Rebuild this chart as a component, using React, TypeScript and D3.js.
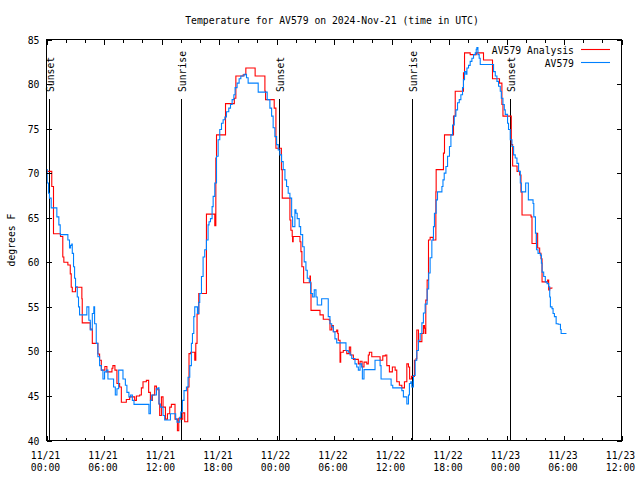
import React from 'react';
import * as d3 from 'd3';

// Hours since 2024-11-21 00:00 UTC
const redHours = [0.07,0.55,0.73,1.46,1.70,1.81,2.23,2.48,2.58,2.69,3.03,3.27,3.69,3.73,4.57,4.78,5.36,5.54,5.72,6.09,6.30,6.83,6.93,7.14,7.35,7.63,7.81,8.33,8.68,9.20,9.38,9.72,9.90,10.07,10.42,10.66,10.84,11.05,11.29,11.47,11.74,11.81,11.99,12.16,12.41,12.62,12.86,13.03,13.41,13.66,13.80,14.01,14.22,14.42,14.74,14.87,15.05,15.47,15.58,15.71,15.89,16.69,17.56,17.67,17.74,18.68,19.60,19.76,20.52,20.80,21.77,22.79,22.86,23.76,23.94,24.51,24.60,25.40,25.50,25.64,25.68,25.74,26.45,26.55,26.65,26.83,27.49,27.54,27.60,28.54,28.88,29.51,29.58,29.76,29.93,30.28,30.39,30.45,30.63,30.70,30.97,31.33,31.60,31.74,32.02,32.54,32.72,32.93,33.13,33.42,33.58,33.69,33.94,34.81,35.09,35.36,35.51,35.78,36.09,36.38,36.55,36.82,37.08,37.35,37.60,37.77,37.89,38.08,38.39,38.57,38.64,38.81,39.17,39.33,39.44,39.51,39.58,39.72,39.86,40.03,40.35,40.63,40.66,41.42,41.53,42.47,42.65,43.51,43.62,44.21,44.84,45.60,46.54,47.27,47.52,47.63,48.50,48.64,49.10,49.37,49.51,49.62,50.56,50.66,51.11,51.25,51.46,51.60,51.71,52.29,52.40,52.51,52.75];
const redTemps = [70.2,68.5,63.2,62.9,60.6,60.0,59.7,58.7,57.2,56.7,57.2,57.2,55.9,53.2,52.5,50.9,49.7,49.0,47.9,48.3,47.7,48.1,48.4,47.9,46.4,46.0,44.3,44.6,44.9,44.5,45.0,45.1,45.9,46.6,46.75,45.4,44.5,45.1,46.1,45.7,44.1,42.8,44.9,43.75,42.4,43.0,43.75,44.05,42.4,41.1,42.5,42.4,43.1,42.1,46.0,49.75,49.9,49.0,50.9,54.2,56.5,65.4,64.1,71.7,74.3,77.8,78.4,80.9,81.05,81.8,80.9,79.2,78.25,77.3,72.8,70.4,67.2,64.75,63.6,62.9,62.3,62.9,62.3,61.2,59.5,57.7,58.45,57.7,54.6,54.1,53.6,53.5,52.4,52.9,52.2,52.4,52.0,51.25,48.8,49.9,50.1,49.75,50.5,49.6,49.1,48.6,48.9,48.25,48.8,48.6,49.6,49.9,49.4,49.0,49.5,49.6,48.4,47.7,48.25,47.9,46.6,46.2,45.9,46.6,48.6,48.25,46.9,47.2,49.0,49.2,52.4,51.1,52.0,52.9,52.6,52.0,55.75,58.0,62.5,62.8,62.5,67.9,70.4,72.25,74.3,76.4,79.2,81.25,83.5,83.3,83.5,82.7,80.6,80.1,77.7,76.4,73.2,70.8,70.2,69.8,67.9,65.3,65.1,62.1,63.25,61.6,61.0,60.4,57.8,58.0,56.9,57.1,57.05];

const blueHours = [0.0,0.07,0.21,0.31,0.49,1.08,1.29,1.43,2.23,2.40,2.51,2.64,2.69,2.82,2.93,3.03,3.21,3.34,3.45,4.21,4.42,4.57,4.78,4.94,5.02,5.19,5.36,5.54,5.72,5.89,6.06,6.24,6.41,7.00,7.18,7.35,7.53,7.98,8.23,8.39,8.60,8.78,8.96,9.13,10.69,10.84,10.98,11.47,11.63,11.74,11.88,12.16,12.33,12.93,13.48,13.62,13.90,14.01,14.18,14.35,14.60,14.77,14.95,15.12,15.23,15.37,15.47,15.75,15.89,15.99,16.17,16.34,16.51,16.69,16.86,16.96,17.11,17.28,17.39,17.56,17.74,17.91,18.08,18.26,18.43,18.61,18.78,19.02,19.20,19.37,19.55,19.68,19.89,20.10,20.28,20.62,20.87,21.04,22.09,23.03,23.31,23.49,23.65,23.83,24.01,24.18,24.35,24.53,24.70,24.88,25.05,25.22,25.40,25.58,25.68,25.92,26.03,26.16,26.37,26.52,26.73,26.89,27.07,27.21,27.42,27.56,27.77,27.94,28.12,28.25,28.71,29.40,29.58,29.76,29.93,30.10,30.28,31.25,31.49,31.67,31.85,32.19,32.37,32.54,32.72,32.89,32.96,33.13,34.28,34.81,34.91,35.96,36.13,37.08,37.24,37.60,37.77,37.87,38.01,38.12,38.29,38.47,38.64,38.81,38.99,39.17,39.33,39.51,39.72,39.88,40.03,40.21,40.38,40.48,40.66,40.80,41.26,41.37,41.50,41.68,41.85,42.05,42.20,42.37,42.55,42.72,42.89,43.07,43.24,43.41,43.51,43.62,43.76,43.87,44.04,44.21,44.39,44.56,44.74,44.84,44.91,45.02,45.15,45.26,46.65,46.83,47.00,47.17,47.35,47.46,47.63,47.77,47.87,48.11,48.21,48.39,48.57,48.74,48.91,49.09,49.26,49.44,49.55,50.00,50.28,50.77,50.85,51.02,51.13,51.29,51.53,51.64,51.71,51.88,52.05,52.23,52.40,52.51,52.58,52.75,52.86,53.00,53.18,53.39,53.63,53.70,54.26];
const blueTemps = [70.4,68.9,67.75,67.2,66.1,65.1,64.2,63.1,62.5,61.6,61.9,62.05,61.0,59.5,58.2,57.25,56.1,55.0,54.1,55.0,53.5,52.4,54.25,55.0,53.1,50.9,49.4,48.4,47.9,46.9,47.7,47.9,46.9,46.0,45.1,45.8,47.9,46.9,46.2,45.4,44.9,45.1,44.5,44.05,43.0,44.5,45.1,45.8,45.9,44.1,43.75,42.8,42.3,43.0,42.4,42.06,42.6,43.2,44.5,45.6,46.0,47.1,48.4,50.9,52.0,53.9,55.0,54.25,55.5,56.5,58.4,60.6,61.4,62.5,64.2,64.55,64.9,66.25,67.4,68.9,71.9,73.75,74.9,75.6,76.0,76.3,76.9,77.3,77.7,78.25,78.8,79.6,80.1,80.6,80.9,81.1,80.7,80.1,79.1,78.25,77.3,76.4,75.1,74.1,73.2,72.6,72.05,71.3,70.4,69.25,68.5,67.75,67.2,65.1,64.0,65.9,65.5,64.9,64.0,63.1,61.75,60.05,59.1,58.2,57.8,56.5,56.1,56.9,56.1,55.2,55.9,53.9,53.1,52.75,52.2,51.4,50.95,50.1,49.9,49.6,49.2,48.6,48.25,47.9,48.6,48.25,46.9,47.95,49.0,48.4,46.9,46.2,45.9,45.6,44.9,44.1,45.1,46.4,46.6,46.0,47.3,49.0,50.1,51.25,52.0,53.2,54.3,55.3,57.0,58.8,60.5,62.5,64.0,65.5,67.0,67.9,68.5,69.25,70.0,70.75,71.9,73.0,74.3,75.4,76.4,77.1,77.9,78.25,78.8,79.6,80.5,81.4,81.1,81.8,82.1,82.55,82.9,83.3,83.5,83.9,84.1,83.3,82.9,82.2,81.4,80.9,80.3,79.75,79.2,78.4,77.7,77.1,76.6,75.6,74.9,73.75,73.0,72.05,71.7,71.1,70.2,68.9,67.9,68.9,67.0,66.6,65.1,63.25,61.4,61.0,60.8,59.9,58.9,58.4,57.8,57.6,57.25,56.1,55.0,54.8,54.25,53.9,53.1,53.05,52.45,52.0,52.0];

const eventLabels = ['Sunset', 'Sunrise', 'Sunset', 'Sunrise', 'Sunset'];
const eventHours = [0.29, 14.07, 24.29, 38.11, 48.34];

const yTicks = [40, 45, 50, 55, 60, 65, 70, 75, 80, 85];
const xTickHours = [0, 6, 12, 18, 24, 30, 36, 42, 48, 54, 60];
const xTickDates = ['11/21', '11/21', '11/21', '11/21', '11/22', '11/22', '11/22', '11/22', '11/23', '11/23', '11/23'];
const xTickTimes = ['00:00', '06:00', '12:00', '18:00', '00:00', '06:00', '12:00', '18:00', '00:00', '06:00', '12:00'];
const xMinorHours = d3.range(0, 61, 2);

const seriesNames = ['AV579 Analysis', 'AV579'];
const seriesColors = ['#ff0000', '#0080ff'];

const title = 'Temperature for AV579 on 2024-Nov-21 (time in UTC)';
const yLabel = 'degrees F';

const FONT = '"DejaVu Sans Mono", "Liberation Mono", monospace';
const FS = 9.75;

export default function App() {
  const left = 46.5, right = 621.5, top = 39.5, bottom = 440.5;
  const x = d3.scaleLinear().domain([0, 60]).range([left, right]);
  const y = d3.scaleLinear().domain([40, 85]).range([bottom, top]);

  const line = d3
    .line<[number, number]>()
    .x((d) => x(d[0]))
    .y((d) => y(d[1]))
    .curve(d3.curveStepAfter);

  const red: [number, number][] = redHours.map((h, i) => [h, redTemps[i]]);
  const blue: [number, number][] = blueHours.map((h, i) => [h, blueTemps[i]]);

  const eventTop = 99;

  return (
    <svg
      width={640}
      height={480}
      style={{ position: 'absolute', left: 0, top: 0, display: 'block', background: '#fff' }}
      fontFamily={FONT}
      fontSize={FS}
    >
      <rect x={0} y={0} width={640} height={480} fill="#fff" />
      <text x={332} y={24} textAnchor="middle" fill="#000">{title}</text>

      {/* event lines */}
      {eventHours.map((h, i) => {
        const ex = Math.round(x(h)) + 0.5;
        return (
          <g key={'ev' + i}>
            <line x1={ex} x2={ex} y1={eventTop} y2={bottom} stroke="#000" strokeWidth={1} shapeRendering="crispEdges" />
            <text transform={`translate(${ex + 4},92) rotate(-90)`} textAnchor="start" fill="#000">
              {eventLabels[i]}
            </text>
          </g>
        );
      })}

      {/* series */}
      <path d={line(red) || ''} fill="none" stroke={seriesColors[0]} strokeWidth={1.1} />
      <path d={line(blue) || ''} fill="none" stroke={seriesColors[1]} strokeWidth={1.1} />

      {/* border */}
      <rect x={left} y={top} width={right - left} height={bottom - top} fill="none" stroke="#000" strokeWidth={1} shapeRendering="crispEdges" />

      {/* y ticks */}
      {yTicks.map((t) => {
        const ty = Math.round(y(t)) + 0.5;
        return (
          <g key={'y' + t}>
            <line x1={left} x2={left + 5} y1={ty} y2={ty} stroke="#000" shapeRendering="crispEdges" />
            <line x1={right} x2={right - 5} y1={ty} y2={ty} stroke="#000" shapeRendering="crispEdges" />
            <text x={39.5} y={ty + 3.6} textAnchor="end" fill="#000">{t}</text>
          </g>
        );
      })}

      {/* x minor ticks */}
      {xMinorHours.map((h) => {
        const tx = Math.round(x(h)) + 0.5;
        const major = h % 6 === 0;
        const len = major ? 5 : 3;
        return (
          <g key={'xm' + h}>
            <line x1={tx} x2={tx} y1={bottom} y2={bottom - len} stroke="#000" shapeRendering="crispEdges" />
            <line x1={tx} x2={tx} y1={top} y2={top + len} stroke="#000" shapeRendering="crispEdges" />
          </g>
        );
      })}

      {/* x labels */}
      {xTickHours.map((h, i) => {
        const tx = x(h) - 1;
        return (
          <g key={'xl' + h}>
            <text x={tx} y={459} textAnchor="middle" fill="#000">{xTickDates[i]}</text>
            <text x={tx} y={471} textAnchor="middle" fill="#000">{xTickTimes[i]}</text>
          </g>
        );
      })}

      {/* y label */}
      <text transform="translate(15,240) rotate(-90)" textAnchor="middle" fill="#000">{yLabel}</text>

      {/* legend */}
      {seriesNames.map((n, i) => {
        const ly = 49 + i * 13;
        return (
          <g key={'lg' + i}>
            <text x={574} y={ly + 4.5} textAnchor="end" fill="#000">{n}</text>
            <line x1={581} x2={610} y1={ly + 0.5} y2={ly + 0.5} stroke={seriesColors[i]} strokeWidth={1.1} />
          </g>
        );
      })}
    </svg>
  );
}
